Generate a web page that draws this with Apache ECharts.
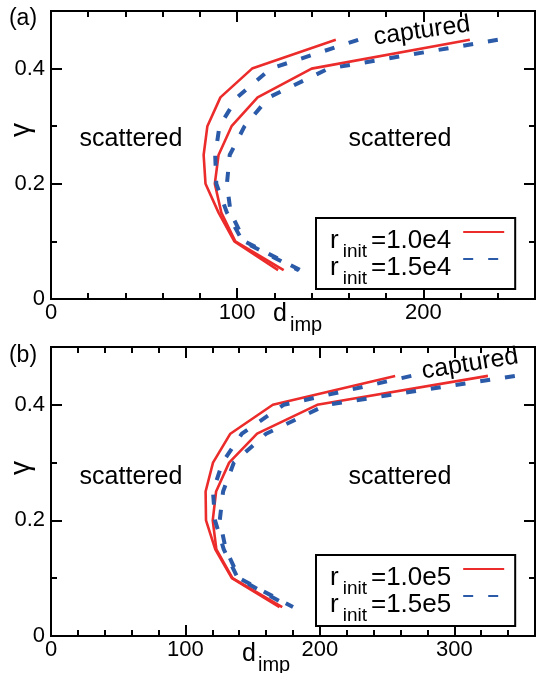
<!DOCTYPE html>
<html><head><meta charset="utf-8">
<script src="https://cdn.jsdelivr.net/npm/echarts@6/dist/echarts.min.js"></script>
<style>html,body{margin:0;padding:0;background:#fff}#c{width:536px;height:673px}</style>
</head><body><div id="c"></div>
<script>
// ---- data ----
const gammaValues = [0.45, 0.40, 0.35, 0.30, 0.25, 0.20, 0.15, 0.10, 0.05];
// panel (a)
const a_red_outer  = [153, 108, 91, 84, 82, 83, 90, 98.5, 122];
const a_red_inner  = [225, 140, 111, 97, 90, 88, 91.5, 99, 125];
const a_blue_outer = [165, 118, 100, 90.5, 88.2, 88.8, 94.5, 103, 133];
const a_blue_inner = [240, 149, 117, 104, 96, 94.5, 96.5, 104, 134];
// panel (b)
const b_red_outer  = [256, 165, 133.4, 120.5, 115, 115.3, 122.2, 134.5, 170];
const b_red_inner  = [325, 198, 153.3, 132.5, 122.8, 120.3, 123, 135, 172];
const b_blue_outer = [268, 173, 142, 127.5, 120.5, 122, 128.5, 139, 178];
const b_blue_inner = [345, 205, 160, 136, 128, 125.5, 130, 140, 180];
const legendA = ['r_init =1.0e4', 'r_init =1.5e4'];
const legendB = ['r_init =1.0e5', 'r_init =1.5e5'];
const xMaxA = 260, xMaxB = 360;
const xMajor = 100, xMinor = 20;
const yMax = 0.5, yMajor = 0.2, yMinor = 0.1;

// ---- styling / layout ----
const FONT = '"Liberation Sans", Arial, Helvetica, sans-serif';
const RED = '#ec2b2b', BLUE = '#2a5aa8';
const PANELS = [
  {left: 51, top: 11, width: 484, height: 288, xMax: xMaxA},
  {left: 51, top: 347, width: 484, height: 289, xMax: xMaxB}
];
const MAJ = 11, MIN = 6;

function pairs(xs) { return xs.map((x, i) => [x, gammaValues[i]]); }

const grids = [], xAxes = [], yAxes = [];
function addGrid(g) { grids.push(g); return grids.length - 1; }

function tick(len) { return {show: true, inside: true, length: len, lineStyle: {width: 2, color: '#000'}}; }
function ax(gi, pos, max, iv, len, lab) {
  const a = {gridIndex: gi, type: 'value', min: 0, max: max, interval: iv, position: pos,
    splitLine: {show: false}, axisLine: {show: true, onZero: false, lineStyle: {color: '#000', width: 2}},
    axisTick: tick(len), axisLabel: {show: !!lab, showMaxLabel: false}};
  if (lab) {
    a.axisLabel.fontSize = 22; a.axisLabel.fontFamily = FONT; a.axisLabel.color = '#000';
    a.axisLabel.margin = (pos === 'left') ? 6 : 3;
    if (pos === 'left') a.axisLabel.formatter = v => (v === 0 ? '0' : v.toFixed(1));
  }
  return a;
}
// tick strips: thin grids whose split lines form the inward tick marks
function splitAxis(gi, max, iv) {
  return {gridIndex: gi, type: 'value', min: 0, max: max, interval: iv, show: true,
    axisLine: {show: false, onZero: false}, axisTick: {show: false}, axisLabel: {show: false},
    splitLine: {show: true, lineStyle: {color: '#000', width: 2, type: 'solid'}}};
}
function hiddenAxis(gi, max) {
  return {gridIndex: gi, type: 'value', min: 0, max: max, show: false, splitLine: {show: false}};
}
function stripX(p, top, h, iv) {
  const gi = addGrid({left: p.left, top: top, width: p.width, height: h, show: false});
  xAxes.push(splitAxis(gi, p.xMax, iv)); yAxes.push(hiddenAxis(gi, 1));
}
function stripY(p, left, w, iv) {
  const gi = addGrid({left: left, top: p.top, width: w, height: p.height, show: false});
  xAxes.push(hiddenAxis(gi, 1)); yAxes.push(splitAxis(gi, yMax, iv));
}

const seriesAxis = [];
PANELS.forEach(p => {
  const gi = addGrid({left: p.left, top: p.top, width: p.width, height: p.height,
    show: true, borderColor: '#000', borderWidth: 2});
  seriesAxis.push({x: xAxes.length, y: yAxes.length});
  xAxes.push(ax(gi, 'bottom', p.xMax, xMajor, MAJ, 1), ax(gi, 'bottom', p.xMax, xMinor, MIN, 0),
             ax(gi, 'top', p.xMax, xMajor, MAJ, 0), ax(gi, 'top', p.xMax, xMinor, MIN, 0));
  yAxes.push(ax(gi, 'left', yMax, yMajor, MAJ, 1), ax(gi, 'left', yMax, yMinor, MIN, 0),
             ax(gi, 'right', yMax, yMajor, MAJ, 0), ax(gi, 'right', yMax, yMinor, MIN, 0));
});
PANELS.forEach(p => {
  const bottom = p.top + p.height, right = p.left + p.width;
  stripX(p, bottom - MAJ, MAJ, xMajor); stripX(p, bottom - MIN, MIN, xMinor);
  stripX(p, p.top, MAJ, xMajor);        stripX(p, p.top, MIN, xMinor);
  stripY(p, p.left, MAJ, yMajor);       stripY(p, p.left, MIN, yMinor);
  stripY(p, right - MAJ, MAJ, yMajor);  stripY(p, right - MIN, MIN, yMinor);
});

function line(name, xs, panel, dashed) {
  return {type: 'line', name: name, xAxisIndex: seriesAxis[panel].x, yAxisIndex: seriesAxis[panel].y,
    data: pairs(xs), symbol: 'none', silent: true, animation: false, z: dashed ? 3 : 2,
    itemStyle: {color: dashed ? BLUE : RED},
    lineStyle: dashed ? {color: BLUE, width: 4, type: [10, 15]} : {color: RED, width: 2.6, type: 'solid'}};
}
function legend(names, top) {
  return {
    data: names, left: 316, top: top, orient: 'vertical', align: 'right',
    itemWidth: 41, itemHeight: 14, itemGap: -15, padding: [1, 10, 1, 14],
    borderColor: '#000', borderWidth: 2, borderRadius: 0, selectedMode: false,
    itemStyle: {opacity: 0, borderWidth: 0},
    formatter: n => '{r|r}{s|init}{n|' + n.replace('r_init ', '') + '}{g|}',
    textStyle: {color: '#000', fontFamily: FONT, fontSize: 26, rich: {
      r: {fontSize: 26, fontFamily: FONT, color: '#000', lineHeight: 22, padding: [7, 0, 0, 0], verticalAlign: 'top'},
      n: {fontSize: 26, fontFamily: FONT, color: '#000', lineHeight: 22, padding: [7, 0, 0, 0], verticalAlign: 'top'},
      s: {fontSize: 19, fontFamily: FONT, color: '#000', lineHeight: 15, padding: [21, 4, 0, 4], verticalAlign: 'top'},
      g: {width: 7, lineHeight: 22}
    }}
  };
}
function txt(text, x, y, size, opts) {
  opts = opts || {};
  return {type: 'text', x: x, y: y, rotation: opts.rot || 0, silent: true,
    style: {text: text, fontSize: size, fontFamily: FONT, fill: '#000',
      align: opts.align || 'center', textAlign: opts.align || 'center',
      verticalAlign: 'middle', textVerticalAlign: 'middle'}};
}

const chart = echarts.init(document.getElementById('c'));
chart.setOption({
  animation: false,
  grid: grids,
  xAxis: xAxes,
  yAxis: yAxes,
  legend: [legend(legendA, 218), legend(legendB, 555)],
  series: [
    line(legendA[0], a_red_outer, 0, false),
    line(legendA[0], a_red_inner, 0, false),
    line(legendA[1], a_blue_outer, 0, true),
    line(legendA[1], a_blue_inner, 0, true),
    line(legendB[0], b_red_outer, 1, false),
    line(legendB[0], b_red_inner, 1, false),
    line(legendB[1], b_blue_outer, 1, true),
    line(legendB[1], b_blue_inner, 1, true)
  ],
  graphic: [
    txt('(a)', 23, 19, 23),
    txt('(b)', 23, 356, 23),
    txt('γ', 21, 130, 28, {rot: Math.PI / 2}),
    txt('γ', 21, 468, 28, {rot: Math.PI / 2}),
    txt('scattered', 131, 139, 25),
    txt('scattered', 400, 139, 25),
    txt('scattered', 131, 477, 25),
    txt('scattered', 400, 477, 25),
    txt('captured', 422, 31, 25, {rot: 0.14}),
    txt('captured', 470, 364, 25, {rot: 0.16}),
    txt('d', 273, 314.5, 25, {align: 'left'}),
    txt('imp', 290, 325, 20, {align: 'left'}),
    txt('d', 242, 654.5, 25, {align: 'left'}),
    txt('imp', 258, 665, 20, {align: 'left'})
  ]
});
</script>
</body></html>
